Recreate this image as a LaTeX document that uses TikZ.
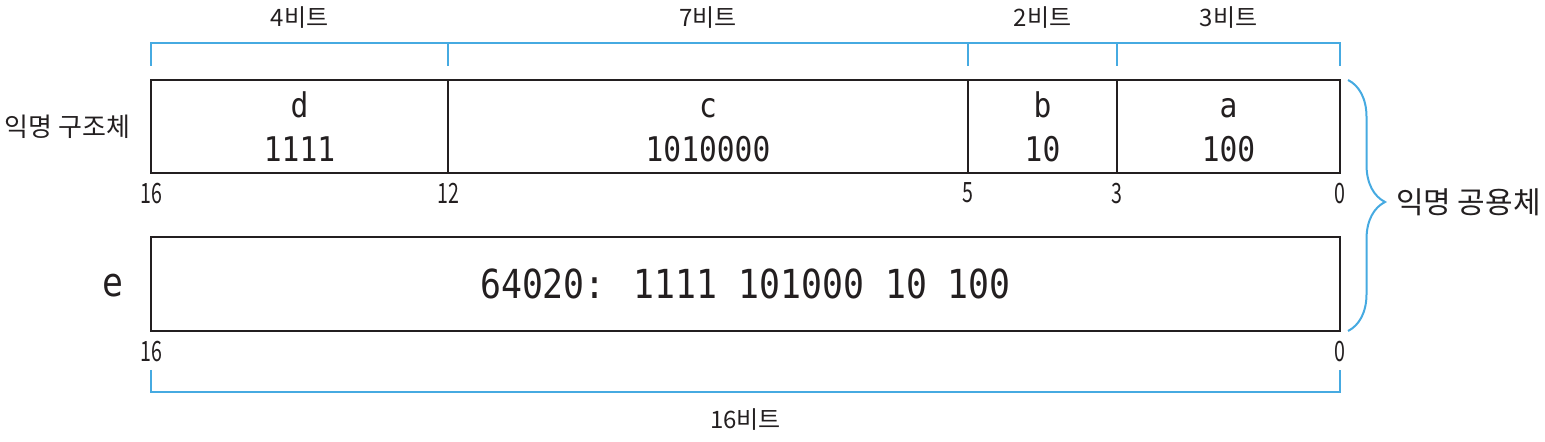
\documentclass[tikz,border=0pt]{standalone}
\usepackage{fontspec}
\newfontfamily\kr{Noto Sans CJK KR}
\newfontfamily\krnum[FakeStretch=0.7]{Noto Sans CJK KR}
\newfontfamily\mono[FakeStretch=0.87]{DejaVu Sans Mono}
\usetikzlibrary{positioning,decorations.pathreplacing}
\definecolor{linegray}{RGB}{35,31,32}
\definecolor{bitblue}{RGB}{70,170,225}
\newcommand\fieldtext[2]{\vphantom{d}#1\\#2}

\begin{document}
\begin{tikzpicture}[node distance=0pt, outer sep=0pt]
  \tikzset{
    field/.style={rectangle, draw=linegray, line width=1pt, minimum height=46.5pt, inner sep=0pt, align=center, text=linegray, font=\mono\fontsize{17}{22}\selectfont},
    bitnum/.style={inner sep=0pt, text=linegray, font=\krnum\fontsize{14}{14}\selectfont},
    bitlabel/.style={inner sep=0pt, text=linegray, font=\kr\fontsize{12}{12}\selectfont},
    namelabel/.style={inner sep=0pt, text=linegray, font=\kr\fontsize{13}{13}\selectfont},
    bitbar/.style={draw=bitblue, line width=0.8pt},
    mybrace/.style={draw=bitblue, line width=1pt, decorate, decoration={brace, amplitude=18.5pt, aspect=0.486}}
  }
  \useasboundingbox (0,0) rectangle (772.5pt,-221pt);

  \node[field, minimum width=148.5pt, anchor=north west] (d) at (75.5pt,-40pt) {\fieldtext{d}{1111}};
  \node[field, minimum width=260pt, right=of d] (c) {\fieldtext{c}{1010000}};
  \node[field, minimum width=74.5pt, right=of c] (b) {\fieldtext{b}{10}};
  \node[field, minimum width=111.5pt, right=of b] (a) {\fieldtext{a}{100}};
  \node[field, minimum width=594.5pt, minimum height=47pt, anchor=north west, font=\mono\fontsize{20}{24}\selectfont] (ebox) at (75.5pt,-118.5pt) {64020: 1111 101000 10 100};

  \node[namelabel, left=10.5pt of d] (struct) {익명 구조체};
  \node[inner sep=0pt, text=linegray, font=\mono\fontsize{20}{20}\selectfont, left=14pt of ebox, yshift=-1pt] (elabel) {e};

  \node[bitlabel, above=26pt of d] (dbits) {4비트};
  \node[bitlabel, above=26pt of c] (cbits) {7비트};
  \node[bitlabel, above=26pt of b] (bbits) {2비트};
  \node[bitlabel, above=26pt of a] (abits) {3비트};

  \coordinate (t0) at ([yshift=7pt]d.north west);
  \coordinate (t1) at ([yshift=7pt]d.north east);
  \coordinate (t2) at ([yshift=7pt]c.north east);
  \coordinate (t3) at ([yshift=7pt]b.north east);
  \coordinate (t4) at ([yshift=7pt]a.north east);
  \draw[bitbar] (t0) -- ++(0,11.5pt) -| (t4);
  \foreach \t in {t1,t2,t3}
    \draw[bitbar] (\t) -- ++(0,11.5pt);

  \node[bitnum, below=5pt of d.south west] (n16) {16};
  \node[bitnum, below=5pt of d.south east] (n12) {12};
  \node[bitnum, below=5pt of c.south east] (n5) {5};
  \node[bitnum, below=5pt of b.south east] (n3) {3};
  \node[bitnum, below=5pt of a.south east] (n0) {0};
  \node[bitnum, below=5pt of ebox.south west] (m16) {16};
  \node[bitnum, below=5pt of ebox.south east] (m0) {0};

  \coordinate (s0) at ([yshift=-19.5pt]ebox.south west);
  \coordinate (s1) at ([yshift=-19.5pt]ebox.south east);
  \draw[bitbar] (s0) -- ++(0,-11pt) -| (s1);
  \node[bitlabel, below=39pt of ebox] (ebits) {16비트};

  \draw[mybrace] ([xshift=4pt]a.north east) -- ([xshift=4pt]ebox.south east);
  \path (a.north east) -- coordinate[pos=0.486] (mid) (ebox.south east);
  \node[namelabel, font=\kr\fontsize{15}{15}\selectfont, right=28pt of mid] (union) {익명 공용체};
\end{tikzpicture}
\end{document}
